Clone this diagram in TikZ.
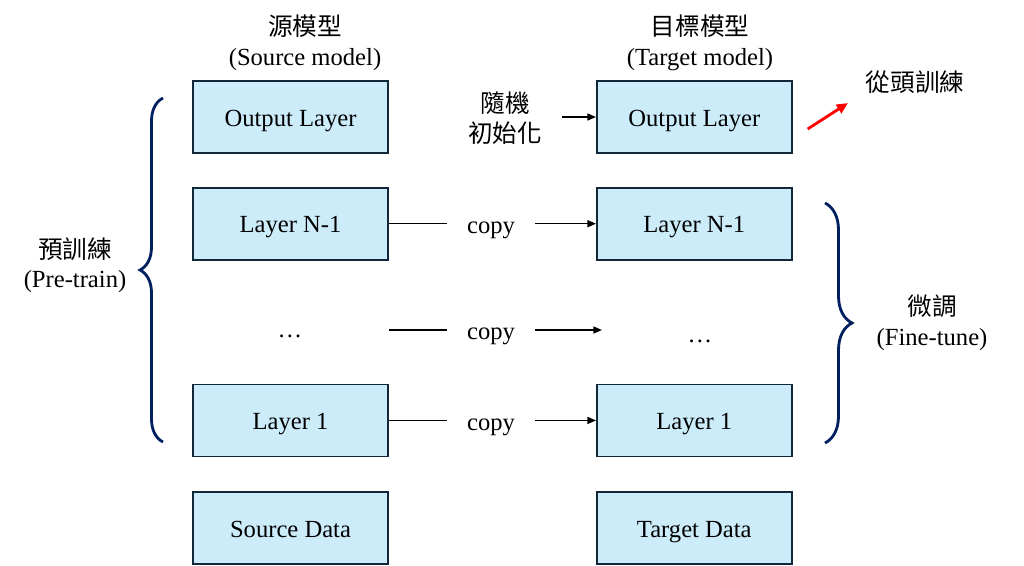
\documentclass[tikz,border=0pt]{standalone}
\usepackage{fontspec}
\setmainfont{Liberation Serif}
\newfontfamily\cjk{Noto Sans CJK TC}
\usepackage{tikz}
\usetikzlibrary{arrows.meta, positioning, decorations.pathreplacing, calc}
\usepackage{xcolor}
\definecolor{boxfill}{RGB}{204,236,250}
\definecolor{boxline}{RGB}{18,38,60}
\definecolor{bracenavy}{RGB}{0,32,96}

\begin{document}
\begin{tikzpicture}[
  x=0.025cm, y=-0.025cm,
  layer/.style={rectangle, draw=boxline, fill=boxfill, line width=1.2pt, minimum width=4.875cm, minimum height=1.8cm, text height=13pt, text depth=0pt, font=\fontsize{17.5}{21}\selectfont},
  lbl/.style={align=center, font=\fontsize{17.5}{21}\selectfont},
  copylbl/.style={lbl, inner xsep=0.5cm, text height=13pt, text depth=0pt},
  ln/.style={line width=0.8pt},
  arr/.style={-{Triangle[length=6pt,width=5pt]}, line width=0.8pt},
  redarr/.style={-{Triangle[length=8pt,width=7pt]}, line width=2pt, red},
  curly/.style={decorate, decoration={brace, amplitude=#1}, line width=2pt, draw=bracenavy},
  node distance=0.825cm
]
\useasboundingbox (0,0) rectangle (1024,565);

% source model
\node[lbl] (srcHead) at (305,43) {{\cjk 源模型}\\(Source model)};
\node[layer] (srcOut) at (290.5,117) {Output Layer};
\node[layer, below=of srcOut] (srcN) {Layer N-1};
\node[layer, below=3.075cm of srcN] (src1) {Layer 1};
\node[layer, below=0.85cm of src1] (srcData) {Source Data};
\node[lbl, anchor=base] (srcDots) at (290,337) {\dots};

% target model
\node[lbl] (tgtHead) at (700,43) {{\cjk 目標模型}\\(Target model)};
\node[layer, right=5.175cm of srcOut] (tgtOut) {Output Layer};
\node[layer, below=of tgtOut] (tgtN) {Layer N-1};
\node[layer, below=3.075cm of tgtN] (tgt1) {Layer 1};
\node[layer, below=0.85cm of tgt1] (tgtData) {Target Data};
\node[lbl, anchor=base] (tgtDots) at (700,342) {\dots};

% copy rows
\node[copylbl] (copyN) at (491,224) {copy};
\node[copylbl] (copyD) at (491,330) {copy};
\node[copylbl] (copy1) at (491,421) {copy};
\draw[ln] (srcN.east) -- (srcN.east -| copyN.west);
\draw[arr] (tgtN.west -| copyN.east) -- (tgtN.west);
\draw[ln] (srcN.east |- copyD.west) -- (copyD.west);
\draw[arr] (copyD.east) -- ([xshift=0.15cm]tgtN.west |- copyD.east);
\draw[ln] (src1.east) -- (src1.east -| copy1.west);
\draw[arr] (tgt1.west -| copy1.east) -- (tgt1.west);

\node[lbl, inner xsep=0.5cm] (randInit) at (505,118) {{\cjk 隨機}\\{\cjk 初始化}};
\draw[arr] (tgtOut.west -| randInit.east) -- (tgtOut.west);

\node[lbl] (scratch) at (915,82) {\cjk 從頭訓練};
\coordinate (redTip) at (848,103);
\draw[redarr] ($(tgtOut.east)+(15,12)$) -- (redTip);

% braces
\draw[curly=0.575cm] (163,442) -- (163,98);
\node[lbl] (pretrain) at (75,265) {{\cjk 預訓練}\\(Pre-train)};
\draw[curly=0.675cm] (825,203) -- (825,443);
\node[lbl] (finetune) at (932,323) {{\cjk 微調}\\(Fine-tune)};
\end{tikzpicture}
\end{document}
